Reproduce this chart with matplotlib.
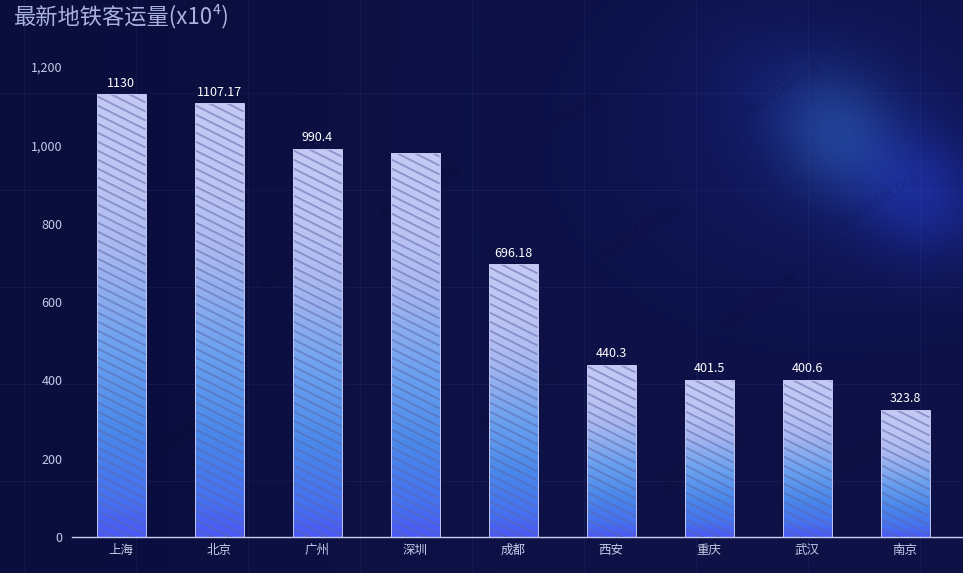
import matplotlib.pyplot as plt
import numpy as np
from matplotlib.colors import LinearSegmentedColormap
from matplotlib.collections import LineCollection

plt.rcParams['font.family'] = ['Noto Sans CJK SC', 'DejaVu Sans']

cities = ['上海', '北京', '广州', '深圳', '成都', '西安', '重庆', '武汉', '南京']
ridership = [1130, 1107.17, 990.4, 981, 696.18, 440.3, 401.5, 400.6, 323.8]
labels = ['1130', '1107.17', '990.4', '', '696.18', '440.3', '401.5', '400.6', '323.8']
yticks = [0, 200, 400, 600, 800, 1000, 1200]

W, H = 963, 573
fig = plt.figure(figsize=(W / 100, H / 100), dpi=100)

# background: dark navy with a soft diagonal glow in the upper right
bg = fig.add_axes([0, 0, 1, 1])
yy, xx = np.mgrid[0:H, 0:W]
img = np.ones((H, W, 3)) * np.array([13, 17, 70]) / 255.0
img += np.clip(1 - xx / 500, 0, 1)[..., None] * np.array([-3, -3, -10]) / 255.0
u = (xx - 860) * 0.8 + (yy - 150) * 0.6
v = -(xx - 860) * 0.6 + (yy - 150) * 0.8
band = np.exp(-((u / 130.0) ** 2 + (v / 60.0) ** 2))
g1 = np.exp(-(((xx - 835) / 55.0) ** 2 + ((yy - 130) / 60.0) ** 2))
g2 = np.exp(-(((xx - 925) / 60.0) ** 2 + ((yy - 200) / 60.0) ** 2))
g3 = np.exp(-(((xx - 830) / 200.0) ** 2 + ((yy - 140) / 150.0) ** 2))
img += band[..., None] * np.array([8, 16, 38]) / 255.0
img += g1[..., None] * np.array([9, 26, 18]) / 255.0
img += g2[..., None] * np.array([6, 10, 36]) / 255.0
img += g3[..., None] * np.array([4, 7, 26]) / 255.0
img = np.clip(img, 0, 1)
bg.imshow(img, extent=(0, W, H, 0), aspect='auto')
for gx in range(24, W, 112):
    bg.axvline(gx, color='#3a4a9a', lw=0.6, alpha=0.2)
for gy in range(93, H, 97):
    bg.axhline(gy, color='#3a4a9a', lw=0.6, alpha=0.2)
for wx, wy in [(560, 120), (780, 90), (880, 200), (640, 230), (760, 300),
               (300, 260), (420, 190), (200, 420), (520, 400), (700, 460), (880, 440)]:
    bg.text(wx, wy, 'MetroDB.org', rotation=35, color='#000000', alpha=0.1,
            fontsize=11, ha='center', va='center')
bg.set_xlim(0, W)
bg.set_ylim(H, 0)
bg.axis('off')

# chart
ax = fig.add_axes([72 / W, (H - 537) / H, (W - 72) / W, 470 / H])
ax.patch.set_alpha(0)
ax.set_xlim(-0.5, -0.5 + (W - 72) / 98)
ax.set_ylim(0, 1200)

cmap = LinearSegmentedColormap.from_list('bar', [
    (0.0, '#4b58f5'), (0.08, '#4670f0'), (0.24, '#4a88ea'), (0.42, '#6aa0ef'),
    (0.65, '#aab8f0'), (0.8, '#bdc4f3'), (1.0, '#c4caf5')])
grad = np.linspace(0, 1, 256).reshape(-1, 1)

x = np.arange(len(cities))
bars = ax.bar(x, ridership, width=0.5, color='none', edgecolor='#c0c6f0', lw=0.7, zorder=4)

# shallow diagonal stripes, ~9px apart, dropping half a pixel per pixel
ypx = 470 / 1200
step = 9 / ypx
for rect, val in zip(bars, ridership):
    x0, x1 = rect.get_x(), rect.get_x() + rect.get_width()
    im = ax.imshow(grad, cmap=cmap, origin='lower', aspect='auto',
                   extent=(x0, x1, 0, val), zorder=2)
    im.set_clip_path(rect)
    drop = 0.5 * (x1 - x0) * 98 / ypx
    segs = [[(x0, c), (x1, c - drop)] for c in np.arange(0, val + drop + step, step)]
    lc = LineCollection(segs, colors='#5a68a8', linewidths=1.3, alpha=0.55, zorder=3)
    ax.add_collection(lc)
    lc.set_clip_path(rect)

for xi, val, lab in zip(x, ridership, labels):
    if lab:
        ax.text(xi, val + 12, lab, ha='center', va='bottom', color='white', fontsize=9)

ax.set_xticks(x, cities)
ax.set_yticks(yticks, [f'{t:,}' for t in yticks])
ax.tick_params(axis='both', length=0, colors='#c5cbe8', labelsize=9)
ax.tick_params(axis='y', pad=7)
ax.tick_params(axis='x', pad=5)
for s in ['top', 'right', 'left']:
    ax.spines[s].set_visible(False)
ax.spines['bottom'].set_color('#c8cdf0')
ax.spines['bottom'].set_linewidth(1)

fig.text(14 / W, 1 - 16 / H, '最新地铁客运量(x10⁴)', color='#a9b2de', fontsize=16,
         ha='left', va='center')

fig.savefig('out.png', dpi=100)
